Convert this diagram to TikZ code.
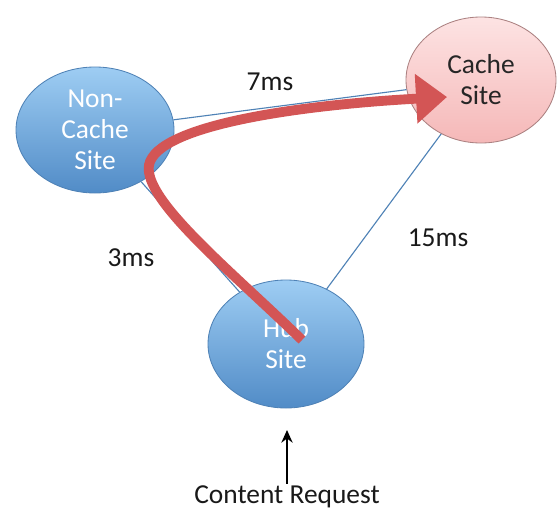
\documentclass[tikz,border=0pt]{standalone}
\usepackage{fontspec}
\setmainfont{Carlito}
\usetikzlibrary{arrows.meta,shapes.geometric}
\definecolor{siteblue}{HTML}{5A9BDD}
\definecolor{sitetop}{HTML}{9ECDF3}
\definecolor{siteline}{HTML}{4F82B6}
\definecolor{cachetop}{HTML}{FDE3E3}
\definecolor{cachebot}{HTML}{F5B8B8}
\definecolor{pathred}{HTML}{D35555}

\begin{document}
\begin{tikzpicture}[x=0.025cm,y=-0.025cm,
    site/.style={ellipse,draw=siteline,line width=0.6pt,top color=sitetop,bottom color=siteblue!90!black,
        minimum width=158*0.025cm,minimum height=126*0.025cm,text=white,align=center,
        font=\fontsize{19.5}{22}\selectfont,inner sep=0pt},
    cachesite/.style={site,draw=cachebot!70!black,top color=cachetop,bottom color=cachebot,text=black!85},
    link/.style={draw=siteline,line width=0.8pt},
    delay/.style={font=\fontsize{19.5}{22}\selectfont,text=black!90}]
        \useasboundingbox (0,0) rectangle (558,513);
        \tikzstyle{every node}=[font=\fontsize{19.5}{22}\selectfont]
        \node[site] (noncache) at (95,130) {Non-\\Cache\\Site};
        \node[cachesite,minimum width=150*0.025cm] (cache) at (481,80) {Cache\\Site};
        \node[site,minimum width=156*0.025cm,minimum height=128*0.025cm] (hub) at (286,344) {Hub\\Site};
        % links between the sites
        \draw[link] (noncache) -- (cache);
        \draw[link] (noncache) -- (hub);
        \draw[link] (hub) -- (cache);
        \node[delay] (d7) at (270,82) {7ms};
        \node[delay] (d3) at (131,258) {3ms};
        \node[delay] (d15) at (438,238) {15ms};
        % content path
        \coordinate (start) at (302,340);
        \coordinate (bend) at (149,165);
        \coordinate (tip) at (447,97);
        \draw[pathred,line width=7pt,-{Triangle[width=34pt,length=22pt]}]
            (start) .. controls (230,270) and (143,200) .. (bend)
            .. controls (157,125) and (300,105) .. (tip);
        \node[delay] (request) at (287,497) {Content Request};
        \coordinate (reqtop) at (287,430);
        \draw[line width=1.4pt,-{Stealth[length=9pt,width=8pt]}] ([yshift=-2pt]request.north) -- (reqtop);
\end{tikzpicture}
\end{document}
